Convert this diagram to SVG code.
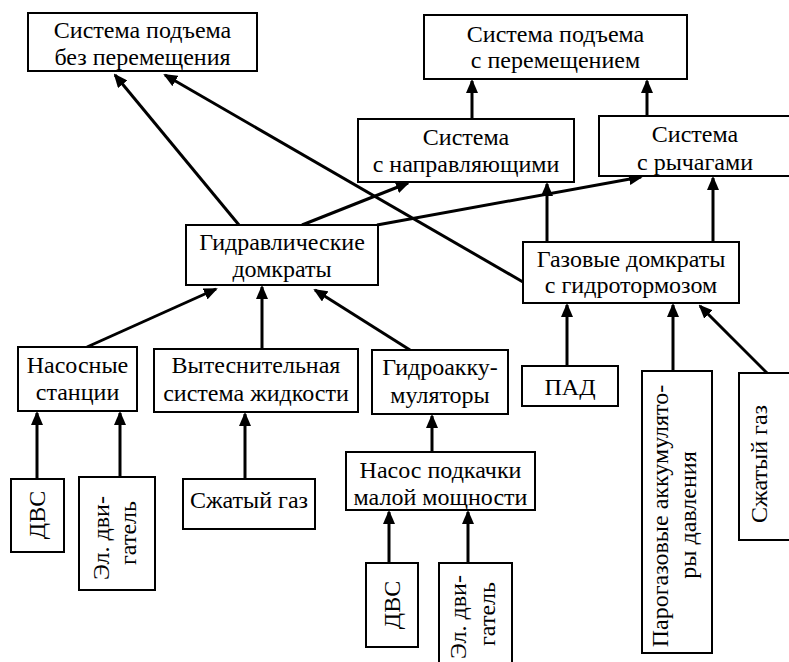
<svg xmlns="http://www.w3.org/2000/svg" width="789" height="662" viewBox="0 0 789 662">
<style>
rect{fill:#fff;stroke:#000;stroke-width:2}
text{font-family:'Liberation Serif','Times New Roman',serif;font-size:24px;fill:#000;text-anchor:middle}
.c line{stroke:#000;stroke-width:3;marker-end:url(#ah)}
</style>
<defs>
<marker id="ah" markerUnits="userSpaceOnUse" markerWidth="14" markerHeight="12" refX="12" refY="6" orient="auto">
<path d="M0,0 L14,6 L0,12 z" fill="#000"/>
</marker>
</defs>
<rect x="0" y="0" width="789" height="662" style="stroke:none"/>
<g id="connectors" class="c">
<line x1="239" y1="225" x2="115" y2="75"/>
<line x1="523" y1="282" x2="165" y2="75"/>
<line x1="302" y1="225" x2="408" y2="183"/>
<line x1="377" y1="225" x2="641" y2="177"/>
<line x1="472" y1="119" x2="472" y2="81"/>
<line x1="647" y1="116" x2="647" y2="81"/>
<line x1="547" y1="242" x2="547" y2="184"/>
<line x1="713" y1="242" x2="713" y2="178"/>
<line x1="87" y1="347" x2="216" y2="289"/>
<line x1="262" y1="349" x2="262" y2="287"/>
<line x1="410" y1="350" x2="315" y2="290"/>
<line x1="37" y1="479" x2="37" y2="413"/>
<line x1="120" y1="480" x2="120" y2="413"/>
<line x1="245" y1="479" x2="245" y2="414"/>
<line x1="432" y1="452" x2="432" y2="416"/>
<line x1="389" y1="563" x2="389" y2="512"/>
<line x1="468" y1="563" x2="468" y2="512"/>
<line x1="567" y1="366" x2="567" y2="305"/>
<line x1="673" y1="371" x2="673" y2="305"/>
<line x1="767" y1="373" x2="700" y2="306"/>
</g>
<g id="n-bez">
<rect x="28" y="13" width="229" height="58"/>
<text x="142.5" y="38">Система подъема</text>
<text x="142.5" y="65">без перемещения</text>
</g>
<g id="n-s-perem">
<rect x="424" y="15" width="263" height="64"/>
<text x="555.5" y="42">Система подъема</text>
<text x="555.5" y="68">с перемещением</text>
</g>
<g id="n-napr">
<rect x="358" y="119" width="216" height="63"/>
<text x="466" y="145">Система</text>
<text x="466" y="172">с направляющими</text>
</g>
<g id="n-rych">
<rect x="599" y="116" width="194" height="60"/>
<text x="695" y="142">Система</text>
<text x="695" y="170">с рычагами</text>
</g>
<g id="n-gidr">
<rect x="186" y="225" width="192" height="60"/>
<text x="282" y="250">Гидравлические</text>
<text x="282" y="277">домкраты</text>
</g>
<g id="n-gaz">
<rect x="523" y="242" width="216" height="61"/>
<text x="631" y="267">Газовые домкраты</text>
<text x="631" y="293">с гидротормозом</text>
</g>
<g id="n-nas">
<rect x="18" y="347" width="119" height="64"/>
<text x="77.5" y="373">Насосные</text>
<text x="77.5" y="400">станции</text>
</g>
<g id="n-vyt">
<rect x="154" y="349" width="204" height="63"/>
<text x="256" y="373">Вытеснительная</text>
<text x="256" y="401">система жидкости</text>
</g>
<g id="n-gak">
<rect x="372" y="350" width="136" height="64"/>
<text x="440" y="375">Гидроакку-</text>
<text x="440" y="403">муляторы</text>
</g>
<g id="n-pad">
<rect x="522" y="366" width="96" height="40"/>
<text x="570" y="395">ПАД</text>
</g>
<g id="n-parog">
<rect x="642" y="371" width="70" height="282"/>
<text transform="translate(668,516) rotate(-90)">Парогазовые аккумулято-</text>
<text transform="translate(696,515) rotate(-90)">ры давления</text>
</g>
<g id="n-szh2">
<rect x="739" y="373" width="56" height="167"/>
<text transform="translate(767,464) rotate(-90)">Сжатый газ</text>
</g>
<g id="n-dvs1">
<rect x="11" y="479" width="53" height="73"/>
<text transform="translate(45,515) rotate(-90)">ДВС</text>
</g>
<g id="n-el1">
<rect x="79" y="477" width="76" height="113"/>
<text transform="translate(109,538) rotate(-90)">Эл. дви-</text>
<text transform="translate(136,533) rotate(-90)">гатель</text>
</g>
<g id="n-szh1">
<rect x="183" y="479" width="132" height="50"/>
<text x="249" y="508">Сжатый газ</text>
</g>
<g id="n-nasos">
<rect x="346" y="452" width="189" height="58"/>
<text x="440.5" y="478">Насос подкачки</text>
<text x="440.5" y="505">малой мощности</text>
</g>
<g id="n-dvs2">
<rect x="366" y="563" width="52" height="84"/>
<text transform="translate(399.5,605) rotate(-90)">ДВС</text>
</g>
<g id="n-el2">
<rect x="439" y="563" width="73" height="110"/>
<text transform="translate(466,617) rotate(-90)">Эл. дви-</text>
<text transform="translate(495,614) rotate(-90)">гатель</text>
</g>
</svg>
